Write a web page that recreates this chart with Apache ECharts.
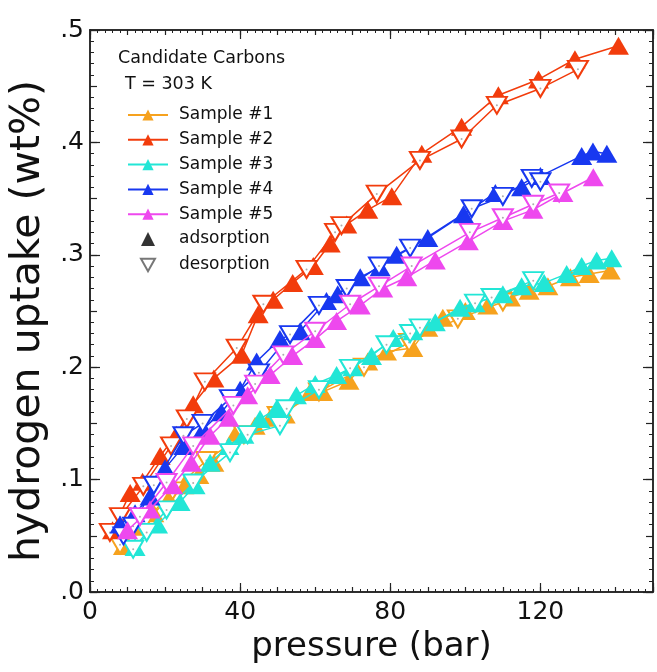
<!DOCTYPE html>
<html><head><meta charset="utf-8">
<script src="https://cdn.jsdelivr.net/npm/echarts@6/dist/echarts.min.js"></script>
<style>html,body{margin:0;padding:0;background:#fff}#c{width:657px;height:672px}</style>
</head><body><div id="c"></div>
<script>
const sampleNames = ['Sample #1','Sample #2','Sample #3','Sample #4','Sample #5'];
const sampleColors = ['#F6A21E','#F23C0C','#22E6D6','#1838F0','#EE48EE'];
const xTickLabels = [0,40,80,120];
const yTickLabels = ['.0','.1','.2','.3','.4','.5'];

const s1Ads = [[8.9,0.041],[13,0.058],[17,0.07],[21,0.083],[25,0.095],[29,0.104],[33,0.115],[39,0.142],[44,0.148],[48,0.155],[52,0.158],[58.6,0.178],[62,0.178],[69,0.188],[74,0.205],[79,0.214],[86,0.217],[90,0.235],[94,0.244],[100,0.25],[106,0.255],[112,0.262],[117,0.268],[122,0.272],[128,0.28],[133,0.283],[138.6,0.286]];
const s1Des = [[8,0.042],[14,0.06],[22,0.09],[31,0.117],[41,0.14],[50,0.157],[61,0.178],[73,0.2],[85,0.222],[98,0.243],[110,0.258]];

const s2Ads = [[6,0.055],[10.7,0.088],[14,0.098],[18.7,0.121],[23,0.14],[27.5,0.167],[33,0.19],[40.4,0.211],[44.8,0.247],[48.8,0.26],[54,0.275],[59.5,0.29],[64,0.31],[68.4,0.327],[74,0.34],[80.4,0.352],[88.4,0.39],[99,0.414],[108.8,0.442],[119.5,0.456],[129.2,0.474],[140.8,0.486]];
const s2Des = [[5.3,0.053],[8,0.067],[14.2,0.094],[21.6,0.13],[25.8,0.154],[30.6,0.187],[39.1,0.217],[46.2,0.256],[57.7,0.287],[65.3,0.32],[67,0.326],[76.4,0.354],[87.9,0.384],[99,0.403],[108.4,0.433],[120,0.448],[130,0.465]];

const s3Ads = [[12,0.04],[18,0.06],[24,0.08],[28,0.095],[32,0.115],[37,0.13],[41,0.14],[45.3,0.154],[49.7,0.163],[55,0.175],[60,0.185],[65.7,0.193],[70,0.2],[75,0.21],[80.8,0.226],[86,0.232],[92,0.24],[98.6,0.253],[102.6,0.257],[110,0.265],[115,0.272],[121,0.275],[127,0.283],[131,0.29],[135,0.295],[139,0.297]];
const s3Des = [[11.5,0.038],[15.1,0.053],[20.4,0.073],[27.5,0.097],[37.3,0.124],[42,0.14],[50.6,0.148],[52.4,0.163],[61,0.18],[69.3,0.199],[79,0.22],[85.3,0.23],[87.9,0.235],[102.6,0.257],[107,0.262],[118.1,0.277]];

const s4Ads = [[8,0.06],[12,0.07],[16,0.085],[20,0.11],[25,0.13],[30.2,0.145],[35,0.16],[40,0.18],[44.4,0.205],[50.6,0.225],[56,0.232],[63,0.259],[66,0.265],[72,0.28],[77.3,0.289],[81.7,0.3],[90,0.315],[99.5,0.336],[108,0.355],[115,0.36],[120,0.37],[131,0.388],[134,0.392],[137.7,0.39]];
const s4Des = [[8.9,0.05],[11.5,0.0585],[17,0.095],[24.9,0.139],[30,0.15],[37.3,0.172],[45,0.195],[53.3,0.229],[61,0.255],[68.4,0.27],[77,0.29],[85.3,0.306],[101.7,0.341],[110,0.352],[117.7,0.368],[120,0.365]];

const s5Ads = [[10,0.055],[16,0.0735],[22,0.095],[27,0.115],[32,0.139],[37,0.155],[42,0.175],[48,0.193],[54,0.21],[60,0.225],[65.7,0.241],[72,0.255],[78,0.27],[84.4,0.28],[92,0.295],[100.8,0.312],[110,0.33],[118,0.34],[126,0.355],[134.1,0.369]];
const s5Des = [[13.3,0.067],[20.4,0.0974],[27.5,0.13],[38.2,0.166],[44,0.185],[51.5,0.211],[60,0.232],[69.3,0.256],[77,0.272],[85.7,0.29],[101.2,0.32],[110,0.333],[118.1,0.345],[125,0.355]];

const adsSets = [s1Ads,s2Ads,s3Ads,s4Ads,s5Ads];
const desSets = [s1Des,s2Des,s3Des,s4Des,s5Des];

const FONT = 'DejaVu Sans';
const downTri = 'path://M0,0 L20,0 L10,18 Z';

const series = [];
for (let i=0;i<5;i++){
  series.push({
    type:'line', name: sampleNames[i], data: adsSets[i], xAxisIndex:0, yAxisIndex:0,
    symbol:'triangle', symbolSize:[21,18], showSymbol:true,
    lineStyle:{color:sampleColors[i], width:1.5},
    itemStyle:{color:sampleColors[i], borderWidth:0},
    emphasis:{disabled:true}, animation:false, z: 2+i*2
  });
  series.push({
    type:'line', name: sampleNames[i], data: desSets[i], xAxisIndex:0, yAxisIndex:0,
    symbol:downTri, symbolSize:[20,17], symbolKeepAspect:false, showSymbol:true,
    lineStyle:{color:sampleColors[i], width:1.5},
    itemStyle:{color:'#ffffff', borderColor:sampleColors[i], borderWidth:2},
    emphasis:{disabled:true}, animation:false, z: 3+i*2
  });
  series.push({
    type:'scatter', name: sampleNames[i]+' dot', data: desSets[i], xAxisIndex:0, yAxisIndex:0,
    symbol:'circle', symbolSize:2, itemStyle:{color:'#999'}, silent:true, animation:false, z: 3+i*2
  });
}
series.push({type:'scatter', name:'adsorption', data:[], symbol:'triangle', itemStyle:{color:'#000'}});
series.push({type:'scatter', name:'desorption', data:[], symbol:downTri, itemStyle:{color:'#fff', borderColor:'#555', borderWidth:1.2}});

const axisCol = '#222';
function xAx(pos, interval, len, minor, showLabel, extra){
  return Object.assign({
    type:'value', position:pos, min:0, max:150, interval:interval,
    axisLine:{show:true, onZero:false, lineStyle:{color:axisCol, width:1.5}},
    axisTick:{show:true, inside:true, length:len, lineStyle:{color:axisCol, width:1.2}},
    minorTick:{show:minor, splitNumber:5, length:3, lineStyle:{color:axisCol, width:1}},
    splitLine:{show:false},
    axisLabel:{show:showLabel, fontFamily:FONT, fontSize:25, color:'#111', margin:8,
      formatter:v => xTickLabels.indexOf(v)>=0 ? String(v) : ''}
  }, extra||{});
}
function yAx(pos, interval, len, minor, showLabel, extra){
  return Object.assign({
    type:'value', position:pos, min:0, max:0.5, interval:interval,
    axisLine:{show:true, onZero:false, lineStyle:{color:axisCol, width:1.5}},
    axisTick:{show:true, inside:true, length:len, lineStyle:{color:axisCol, width:1.2}},
    minorTick:{show:minor, splitNumber:5, length:4, lineStyle:{color:axisCol, width:1}},
    splitLine:{show:false},
    axisLabel:{show:showLabel, fontFamily:FONT, fontSize:25, color:'#111', margin:6,
      formatter:v => { const k = Math.round(v*100); return k%10===0 ? yTickLabels[k/10] : ''; }}
  }, extra||{});
}

const option = {
  animation:false,
  grid:{left:90, right:4, top:30, bottom:80, containLabel:false, outerBoundsMode:'none'},
  xAxis:[
    xAx('bottom',10,5,true,true,{name:'pressure (bar)', nameLocation:'middle', nameGap:30,
      nameTextStyle:{fontFamily:FONT, fontSize:34, color:'#111'}}),
    xAx('bottom',40,9,false,false),
    xAx('top',10,5,true,false),
    xAx('top',40,9,false,false)
  ],
  yAxis:[
    yAx('left',0.05,7,true,true,{name:'hydrogen uptake (wt%)', nameLocation:'middle', nameGap:41,
      nameTextStyle:{fontFamily:FONT, fontSize:41, color:'#111', padding:[0,20,0,0]}}),
    yAx('left',0.1,10,false,false),
    yAx('right',0.05,7,true,false),
    yAx('right',0.1,10,false,false)
  ],
  legend:[
    {orient:'vertical', left:122, top:101, itemWidth:40, itemHeight:14, itemGap:6.8,
     data:sampleNames, textStyle:{fontFamily:FONT, fontSize:17, color:'#111', lineHeight:18, padding:[0,0,0,6]},
     selectedMode:false},
    {orient:'vertical', left:135, top:225, itemWidth:14, itemHeight:14, itemGap:8,
     data:['adsorption','desorption'], textStyle:{fontFamily:FONT, fontSize:17, color:'#111', lineHeight:18, padding:[0,0,0,19]},
     selectedMode:false}
  ],
  graphic:[
    {type:'text', left:118, top:49, style:{text:'Candidate Carbons', font:'17.5px "DejaVu Sans"', fill:'#111'}},
    {type:'text', left:125, top:75, style:{text:'T = 303 K', font:'17.5px "DejaVu Sans"', fill:'#111'}}
  ],
  series: series
};
const chart = echarts.init(document.getElementById('c'), null, {renderer:'canvas'});
chart.setOption(option);
</script></body></html>
